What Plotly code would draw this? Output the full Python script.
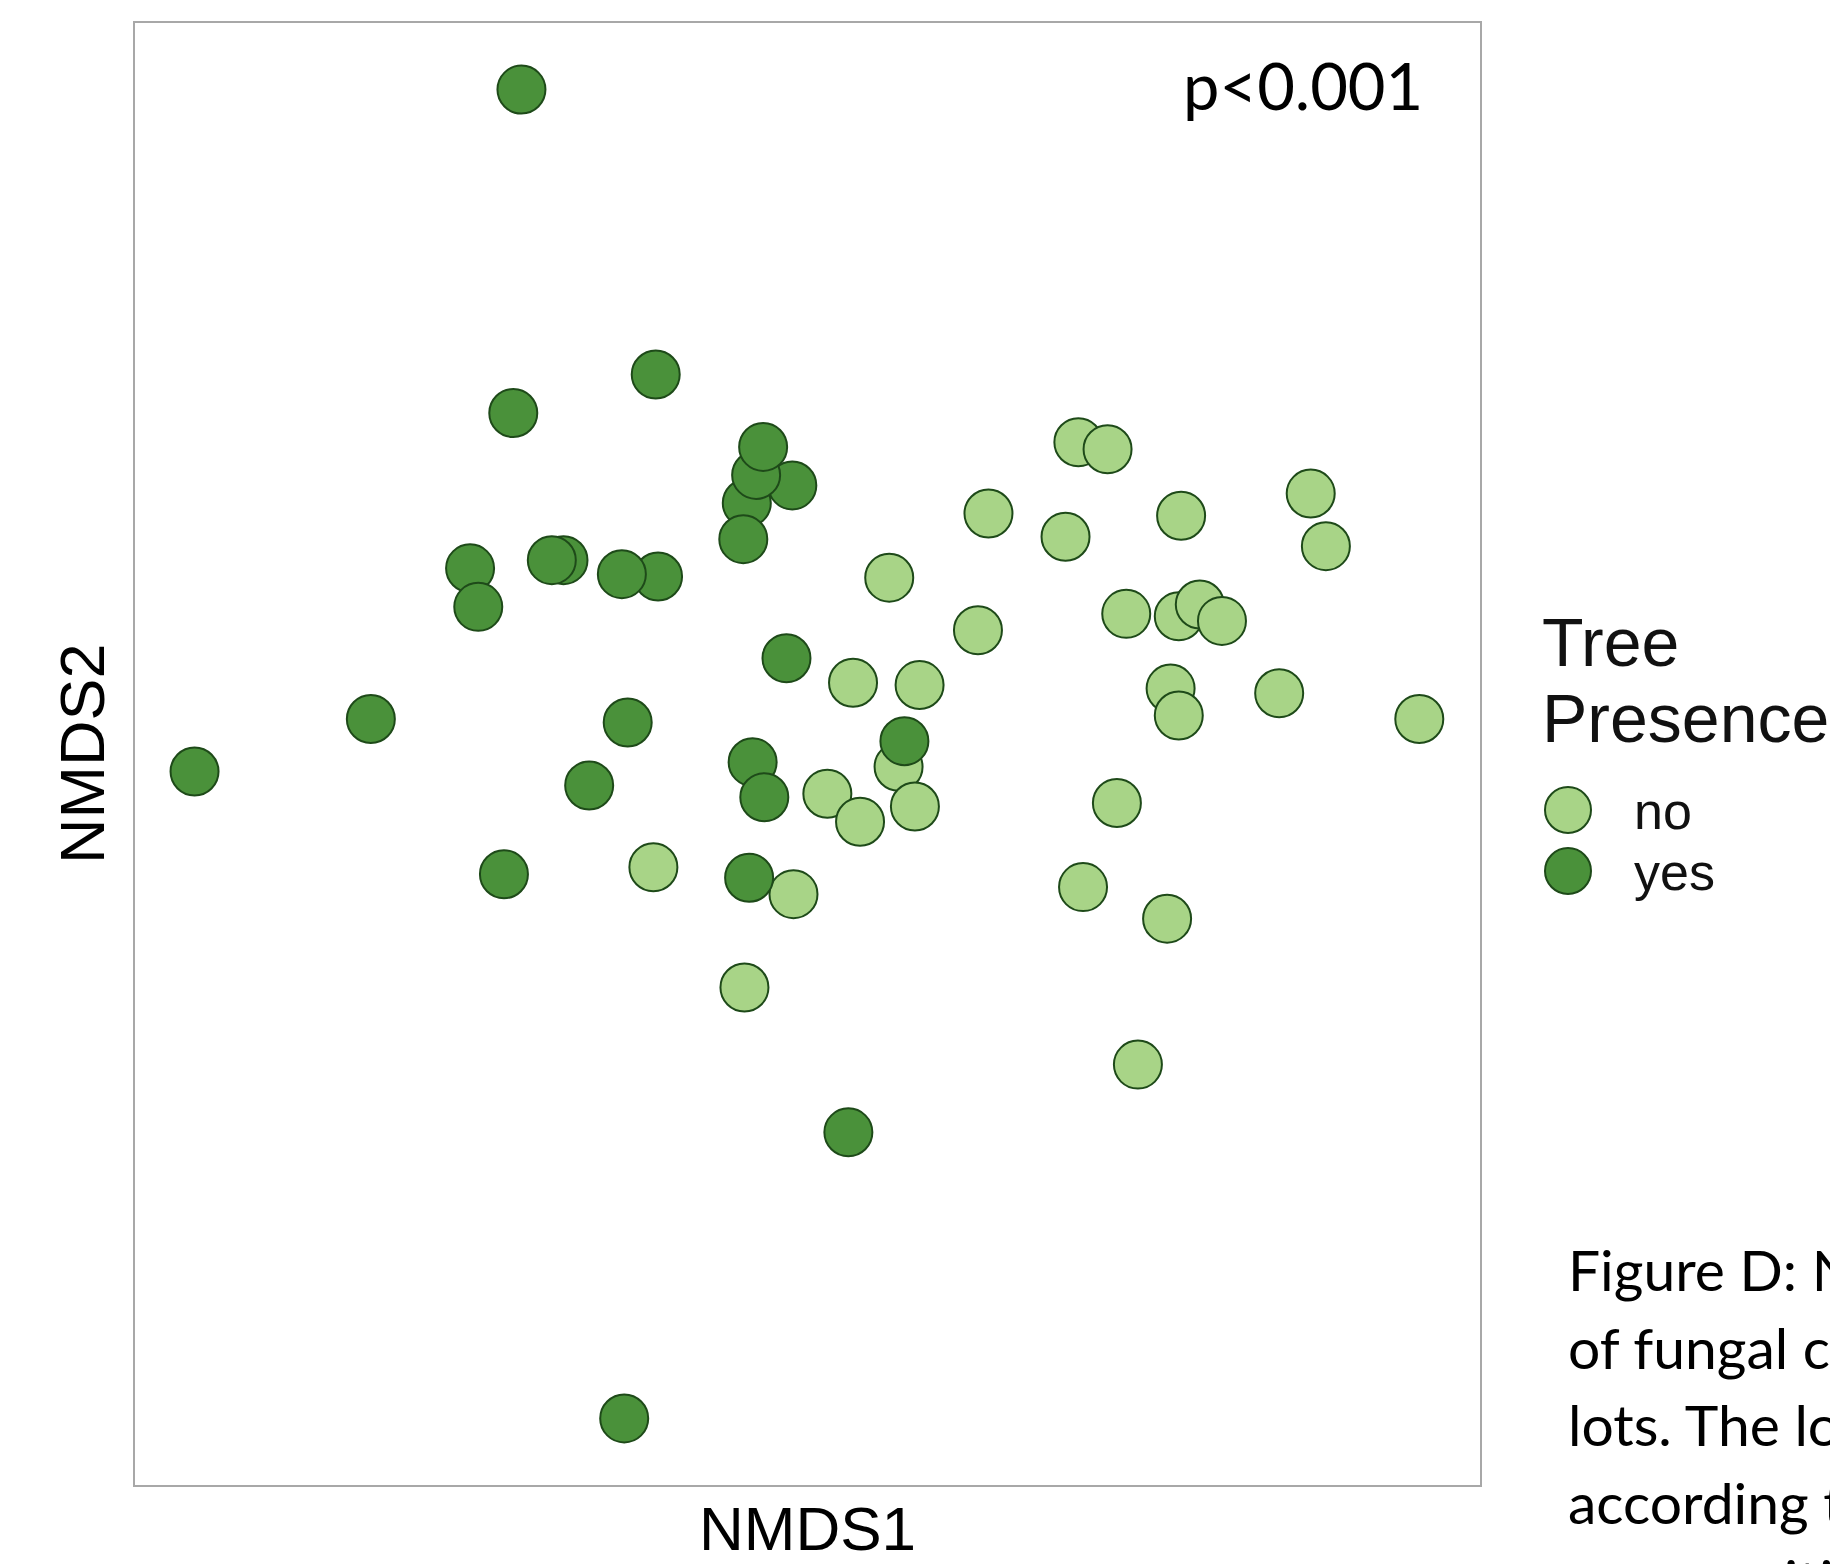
import plotly.graph_objects as go

# ---- data (NMDS scores) ----
yes_x = [-0.245, -0.130, -0.252, -0.013, -0.052, -0.055, -0.044, -0.038, -0.289, -0.282,
         -0.209, -0.219, -0.128, -0.159, -0.018, -0.374, -0.154, -0.525, -0.187, -0.047,
         -0.037, -0.260, -0.050, 0.083, 0.035, -0.157]
yes_y = [0.569, 0.325, 0.292, 0.230, 0.215, 0.184, 0.239, 0.263, 0.159, 0.126,
         0.166, 0.166, 0.152, 0.154, 0.082, 0.030, 0.027, -0.015, -0.027, -0.007,
         -0.037, -0.103, -0.106, 0.011, -0.324, -0.569]

no_x = [0.232, 0.257, 0.155, 0.221, 0.320, 0.431, 0.444, 0.070, 0.146, 0.273,
        0.318, 0.336, 0.355, 0.039, 0.096, 0.311, 0.318, 0.404, 0.524, 0.078,
        0.017, 0.045, 0.092, 0.265, -0.132, -0.012, 0.236, 0.308, -0.054, 0.283]
no_y = [0.267, 0.261, 0.206, 0.186, 0.204, 0.223, 0.178, 0.151, 0.106, 0.120,
        0.118, 0.128, 0.114, 0.061, 0.059, 0.056, 0.033, 0.052, 0.030, -0.011,
        -0.034, -0.058, -0.045, -0.042, -0.097, -0.120, -0.114, -0.141, -0.200, -0.266]

legend_cats = ["no", "yes"]
p_label = "p<0.001"
caption_lines = ["Figure D: NMDS ordination", "of fungal communities in",
                 "lots. The lots are coloured", "according to tree presence",
                 "communities."]

LIGHT = "#a8d487"
DARK = "#4a913a"
EDGE = "#1e4a19"
colors = {"no": LIGHT, "yes": DARK}

W, H = 1830, 1564
ML, MR, MT, MB = 135, 0, 23, 79
PW = W - ML - MR
PH = H - MT - MB
plot_right = 1480
xdom_end = (plot_right - ML) / PW

fig = go.Figure()
mk = dict(size=48, line=dict(color=EDGE, width=2), opacity=1)
fig.add_trace(go.Scatter(x=no_x, y=no_y, mode="markers", name="no",
                         marker=dict(color=LIGHT, **mk), showlegend=False))
fig.add_trace(go.Scatter(x=yes_x, y=yes_y, mode="markers", name="yes",
                         marker=dict(color=DARK, **mk), showlegend=False))

# custom legend drawn on a second pair of axes
idx = list(range(len(legend_cats)))
fig.add_trace(go.Scatter(x=[0] * len(idx), y=idx, mode="markers", xaxis="x2", yaxis="y2",
                         marker=dict(size=46, color=[colors[c] for c in legend_cats],
                                     line=dict(color=EDGE, width=2)),
                         showlegend=False, hoverinfo="skip"))
fig.add_trace(go.Scatter(x=[66] * len(idx), y=[i + 0.1 for i in idx], mode="text",
                         xaxis="x2", yaxis="y2",
                         text=legend_cats, textposition="middle right",
                         textfont=dict(family="Liberation Sans, Arial", size=52, color="#111"),
                         showlegend=False, hoverinfo="skip"))

axis_common = dict(showticklabels=False, showgrid=False, zeroline=False, ticks="",
                   showline=True, mirror=True, linecolor="#a8a8a8", linewidth=2)
leg_x0 = ML + 0.80 * PW
item0_px, step_px = 810, 61
fig.update_layout(
    width=W, height=H,
    margin=dict(l=ML, r=MR, t=MT, b=MB),
    paper_bgcolor="white", plot_bgcolor="white",
    xaxis=dict(domain=[0, xdom_end], range=[-0.576, 0.576], **axis_common),
    yaxis=dict(domain=[0, 1], range=[-0.626, 0.626], **axis_common),
    xaxis2=dict(domain=[0.80, 1.0], anchor="y2", range=[-(1568 - leg_x0), W - 1568],
                visible=False),
    yaxis2=dict(domain=[0, 1], anchor="x2",
                range=[(MT + PH - item0_px) / step_px, -(item0_px - MT) / step_px],
                visible=False),
    showlegend=False,
)

ann = []
ann.append(dict(text="NMDS1", xref="paper", yref="paper", x=xdom_end / 2, y=0, yshift=-43,
                xanchor="center", yanchor="middle", showarrow=False,
                font=dict(family="Liberation Sans, Arial", size=62, color="black")))
ann.append(dict(text="NMDS2", xref="paper", yref="paper", x=0, y=0.5, xshift=-53,
                textangle=-90, xanchor="center", yanchor="middle", showarrow=False,
                font=dict(family="Liberation Sans, Arial", size=63, color="black")))
ann.append(dict(text=p_label, xref="x", yref="y", x=0.424, y=0.573,
                xanchor="center", yanchor="middle", showarrow=False,
                font=dict(family="Lato, Open Sans", size=65, color="black")))
# legend title
for txt, ypx in [("Tree", 642), ("Presence", 718)]:
    ann.append(dict(text=txt, xref="paper", yref="paper", x=(1540 - ML) / PW,
                    y=(MT + PH - ypx) / PH, xanchor="left", yanchor="middle",
                    showarrow=False,
                    font=dict(family="Liberation Sans, Arial", size=68, color="#111")))
# caption
for i, line in enumerate(caption_lines):
    base = 1287 + 77.5 * i
    ann.append(dict(text=line, xref="paper", yref="paper", x=(1566 - ML) / PW,
                    y=(MT + PH - (base - 18)) / PH, xanchor="left", yanchor="middle",
                    showarrow=False,
                    font=dict(family="Lato, Open Sans", size=57, color="black")))
fig.update_layout(annotations=ann)

fig.write_html("out.html", config={"displayModeBar": False},
               post_script="document.body.style.margin='0';")
